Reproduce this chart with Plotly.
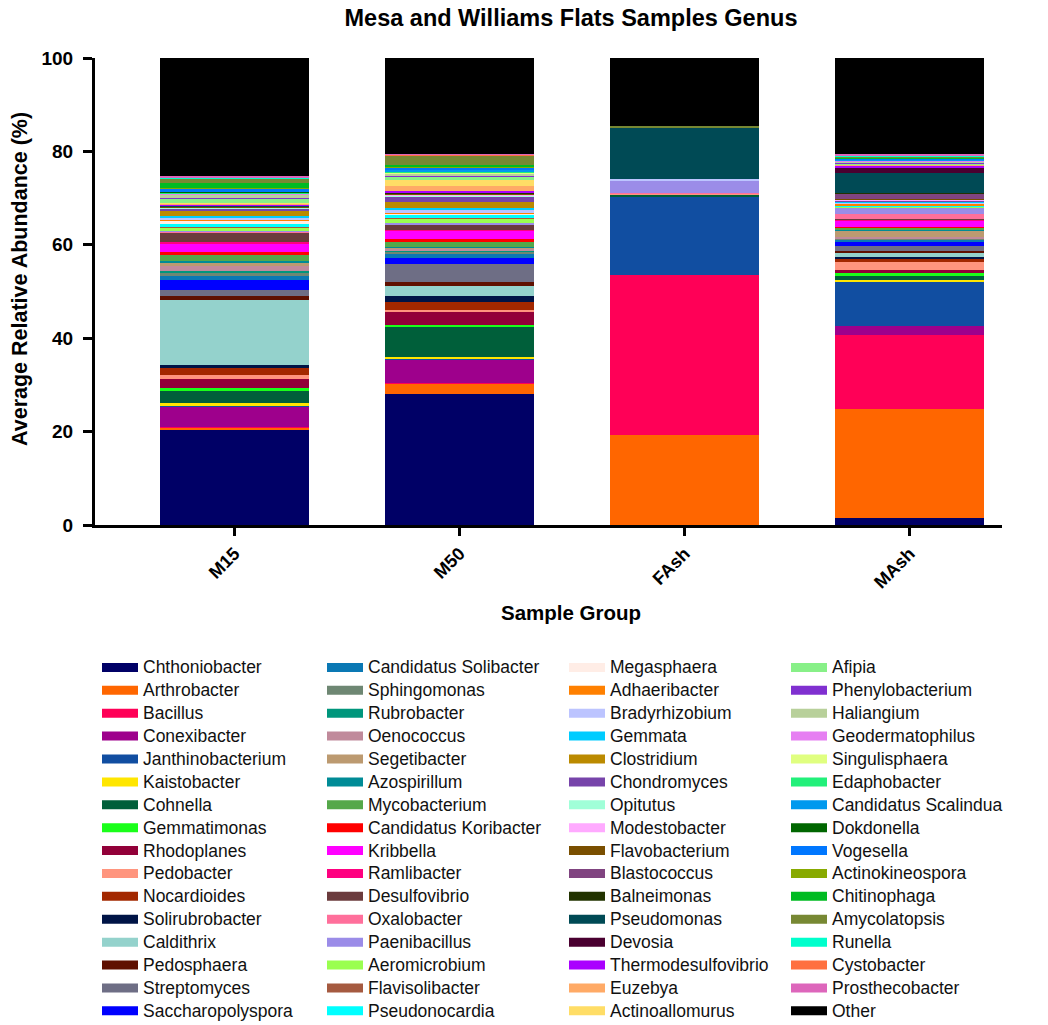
import plotly.graph_objects as go

samples = ["M15", "M50", "FAsh", "MAsh"]

genera = [
    "Chthoniobacter", "Arthrobacter", "Bacillus", "Conexibacter", "Janthinobacterium",
    "Kaistobacter", "Cohnella", "Gemmatimonas", "Rhodoplanes", "Pedobacter",
    "Nocardioides", "Solirubrobacter", "Caldithrix", "Pedosphaera", "Streptomyces",
    "Saccharopolyspora",
    "Candidatus Solibacter", "Sphingomonas", "Rubrobacter", "Oenococcus", "Segetibacter",
    "Azospirillum", "Mycobacterium", "Candidatus Koribacter", "Kribbella", "Ramlibacter",
    "Desulfovibrio", "Oxalobacter", "Paenibacillus", "Aeromicrobium", "Flavisolibacter",
    "Pseudonocardia",
    "Megasphaera", "Adhaeribacter", "Bradyrhizobium", "Gemmata", "Clostridium",
    "Chondromyces", "Opitutus", "Modestobacter", "Flavobacterium", "Blastococcus",
    "Balneimonas", "Pseudomonas", "Devosia", "Thermodesulfovibrio", "Euzebya",
    "Actinoallomurus",
    "Afipia", "Phenylobacterium", "Haliangium", "Geodermatophilus", "Singulisphaera",
    "Edaphobacter", "Candidatus Scalindua", "Dokdonella", "Vogesella", "Actinokineospora",
    "Chitinophaga", "Amycolatopsis", "Runella", "Cystobacter", "Prosthecobacter",
    "Other",
]

colors = [
    "#000066", "#FF6600", "#FF0057", "#9E008C", "#114EA1",
    "#FFE600", "#005F3A", "#1AFF1A", "#920039", "#FF957E",
    "#A32800", "#001446", "#94D2CC", "#5F1000", "#6E6E85",
    "#0000FF",
    "#0A78B4", "#6E8773", "#00967C", "#C08A9B", "#BC9A70",
    "#008B96", "#55A84A", "#FF0000", "#FF00FF", "#FF0080",
    "#6B3B3D", "#FF6F9B", "#9B8CE8", "#9AFF50", "#A55A40",
    "#00FFFF",
    "#FFEDE6", "#FF8000", "#BCC4FF", "#00CCFF", "#BB8A00",
    "#7744AA", "#A0FFD8", "#FFAAFF", "#7A4F00", "#804480",
    "#223300", "#004A55", "#4A0030", "#AA00FF", "#FFAA66",
    "#FFDD66",
    "#88F088", "#8030D0", "#B8D09A", "#E67FF2", "#E0FF80",
    "#22F07A", "#0099EE", "#006600", "#0077FF", "#88AA00",
    "#00BB22", "#778833", "#00FFCC", "#FF7040", "#DD66BB",
    "#000000",
]

# Average relative abundance (%) of each genus, one list per sample group
m15 = [
    20.5, 0.3, 0.2, 4.4, 0.1, 0.7, 2.6, 0.6, 1.8, 1.0, 1.35, 0.8, 13.8, 0.85, 1.4, 2.1,
    0.9, 0.7, 0.3, 1.0, 0.8, 0.4, 1.2, 0.7, 1.8, 0.2, 2.1, 0.15, 0.15, 0.9, 0.2, 0.4,
    0.7, 0.2, 0.5, 0.3, 1.2, 0.5, 0.1, 0.1, 0.1, 0.1, 0.1, 0.1, 0.1, 0.15, 0.1, 0.1,
    1.0, 0.15, 0.8, 0.1, 0.1, 0.1, 0.1, 0.1, 0.85, 0.1, 1.0, 1.0, 0.1, 0.15, 0.15,
    25.35,
]
m50 = [
    28.0, 2.4, 0.1, 5.0, 0.1, 0.35, 6.6, 0.35, 2.8, 0.4, 1.6, 1.4, 2.1, 0.85, 3.8, 1.4,
    0.9, 0.35, 0.3, 0.3, 0.3, 0.2, 0.9, 0.85, 1.7, 0.2, 1.1, 0.1, 0.3, 0.85, 0.1, 0.8,
    0.2, 0.1, 0.85, 0.2, 1.4, 1.05, 0.3, 0.2, 0.1, 0.1, 0.1, 0.1, 0.1, 0.3, 1.0, 1.2,
    0.9, 0.2, 0.35, 0.1, 0.1, 0.1, 0.5, 0.1, 0.35, 0.1, 0.55, 1.9, 0.1, 0.1, 0.1,
    20.6,
]
fash = [
    0.0, 19.3, 34.2, 0.0, 16.7, 0.0, 0.5, 0.0, 0.0, 0.2, 0.0, 0.0, 0.0, 0.0, 0.0, 0.0,
    0.0, 0.0, 0.0, 0.0, 0.0, 0.0, 0.0, 0.0, 0.0, 0.0, 0.0, 0.3, 2.65, 0.0, 0.0, 0.0,
    0.0, 0.0, 0.2, 0.0, 0.0, 0.0, 0.0, 0.0, 0.0, 0.0, 0.0, 11.1, 0.0, 0.0, 0.0, 0.0,
    0.0, 0.0, 0.0, 0.0, 0.0, 0.0, 0.0, 0.0, 0.0, 0.0, 0.0, 0.2, 0.0, 0.0, 0.0,
    14.65,
]
mash = [
    1.4, 23.4, 15.9, 1.9, 9.6, 0.3, 0.85, 0.7, 0.5, 1.8, 0.7, 0.4, 1.0, 0.2, 1.2, 0.85,
    0.4, 0.2, 0.1, 0.3, 1.4, 0.2, 0.3, 0.2, 1.3, 0.3, 0.1, 1.1, 1.4, 0.2, 0.1, 0.1,
    0.1, 0.35, 0.2, 0.2, 0.1, 0.1, 0.1, 0.2, 0.1, 1.2, 0.1, 4.2, 1.3, 0.4, 0.1, 0.1,
    0.1, 0.3, 0.1, 0.2, 0.1, 0.1, 0.1, 0.1, 0.1, 0.1, 0.1, 0.3, 0.1, 0.1, 0.3,
    20.45,
]

FONT = "Arial, Liberation Sans, sans-serif"
PLOT_L, PLOT_R, PLOT_T, PLOT_B = 95, 1002, 58, 525

fig = go.Figure()

# stacked bars, genus order from the bottom up
for i, g in enumerate(genera):
    fig.add_trace(go.Bar(
        x=samples,
        y=[m15[i], m50[i], fash[i], mash[i]],
        name=g,
        marker=dict(color=colors[i], line=dict(width=0)),
        showlegend=False,
        width=0.66,
    ))

# four legend columns, 16 genera each, with wide line swatches
legend_ids = ["legend", "legend2", "legend3", "legend4"]
for i, g in enumerate(genera):
    fig.add_trace(go.Scatter(
        x=[None], y=[None], mode="lines",
        name='<span style="font-size:17.5px">%s</span>' % g,
        line=dict(color=colors[i], width=9),
        legend=legend_ids[i // 16],
    ))

legend_x = [97, 322, 564, 786]
for lid, px in zip(legend_ids, legend_x):
    fig.update_layout({lid: dict(
        xref="container", yref="container",
        x=px / 1048, y=1 - 651 / 1025,
        xanchor="left", yanchor="top",
        bgcolor="rgba(0,0,0,0)",
        font=dict(family=FONT, size=15.3, color="#111111"),
        itemwidth=36,
        traceorder="normal",
        tracegroupgap=0,
    )})

fig.update_layout(
    width=1048, height=1025,
    paper_bgcolor="white", plot_bgcolor="white",
    margin=dict(l=PLOT_L, r=1048 - PLOT_R, t=PLOT_T, b=1025 - PLOT_B, autoexpand=False),
    barmode="stack",
    bargap=0.34,
    title=dict(
        text="<b>Mesa and Williams Flats Samples Genus</b>",
        x=571 / 1048, xref="container", xanchor="center",
        y=1 - 18 / 1025, yref="container", yanchor="middle",
        font=dict(family=FONT, size=23.5, color="black"),
    ),
    font=dict(family=FONT, color="black"),
)

fig.update_xaxes(
    range=[-0.62, 3.41],
    showline=True, linecolor="black", linewidth=3,
    ticks="outside", ticklen=8, tickwidth=2.5, tickcolor="black",
    tickangle=-45,
    tickfont=dict(family=FONT, size=18, color="black"),
    showgrid=False, zeroline=False,
    tickvals=samples, ticktext=["<b>%s</b>" % s for s in samples],
)

fig.update_yaxes(
    range=[0, 100],
    tickvals=[0, 20, 40, 60, 80, 100],
    ticktext=["<b>%d</b>" % v for v in [0, 20, 40, 60, 80, 100]],
    showline=True, linecolor="black", linewidth=3,
    ticks="outside", ticklen=9, tickwidth=3, tickcolor="black",
    tickfont=dict(family=FONT, size=19, color="black"),
    ticklabelstandoff=6,
    showgrid=False, zeroline=False,
)

pw, ph = PLOT_R - PLOT_L, PLOT_B - PLOT_T

fig.add_annotation(
    text="<b>Sample Group</b>", xref="paper", yref="paper",
    x=(571 - PLOT_L) / pw, y=(PLOT_B - 612) / ph,
    xanchor="center", yanchor="middle", showarrow=False,
    font=dict(family=FONT, size=20.5, color="black"),
)
fig.add_annotation(
    text="<b>Average Relative Abundance (%)</b>", xref="paper", yref="paper",
    x=(20 - PLOT_L) / pw, y=(PLOT_B - 279) / ph, textangle=-90,
    xanchor="center", yanchor="middle", showarrow=False,
    font=dict(family=FONT, size=21.5, color="black"),
)

fig.write_html("out.html")
